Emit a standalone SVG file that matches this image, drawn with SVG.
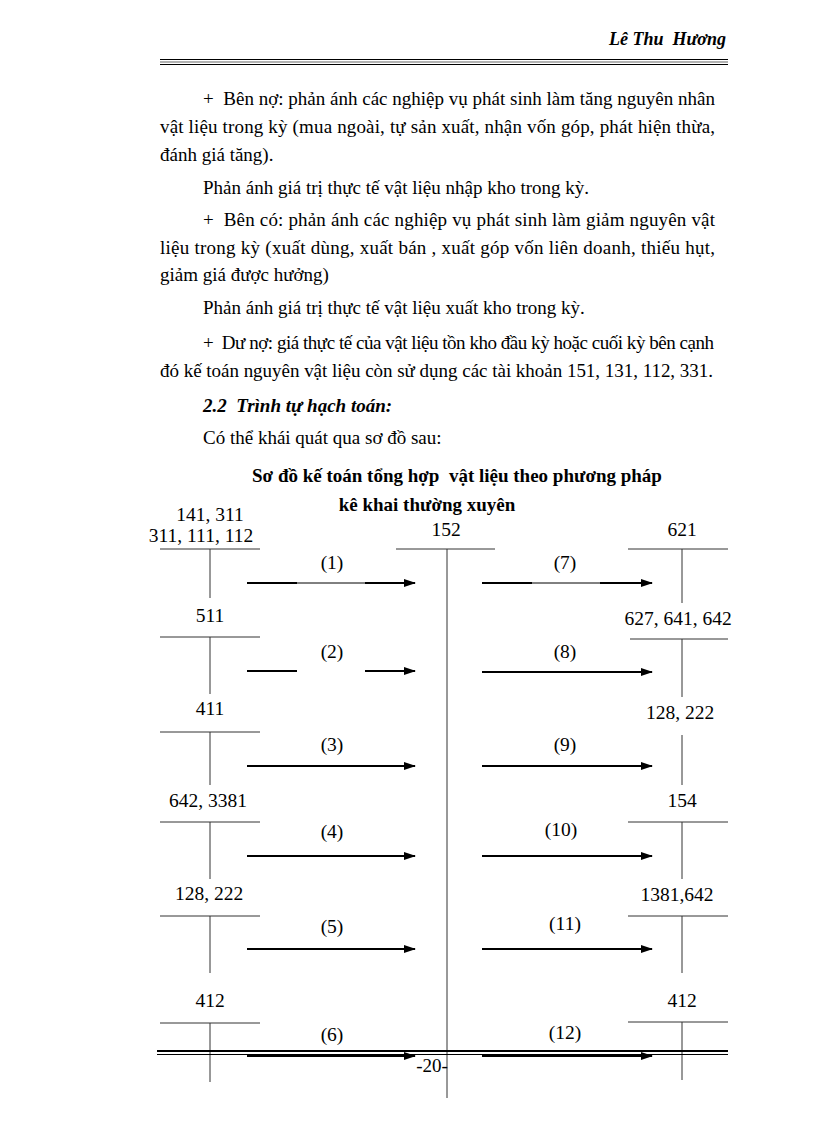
<svg xmlns="http://www.w3.org/2000/svg" width="816" height="1123" viewBox="0 0 816 1123">
<style>
text{font-family:"Liberation Serif","Times New Roman",serif;font-size:19px;fill:#000}
.d{font-size:19.5px}
.c{text-anchor:middle}
.b{font-weight:bold}
.hdr{font-weight:bold;font-style:italic;font-size:18px}
.lg{stroke:#333;stroke-width:1;fill:none}
.ar{stroke:#000;stroke-width:2;fill:none}
.tn{stroke:#000;stroke-width:1;fill:none}
</style>
<defs>
<marker id="ah" markerWidth="12" markerHeight="8" refX="11" refY="4" orient="auto" markerUnits="userSpaceOnUse">
<path d="M0,0 L12,4 L0,8 Z" fill="#000"/>
</marker>
</defs>
<rect width="816" height="1123" fill="#fff"/>
<g id="header">
<text class="hdr" x="726" y="45" text-anchor="end">Lê Thu&#160; Hương</text>
<line x1="160" y1="59.5" x2="728" y2="59.5" stroke="#000" stroke-width="1.2"/>
<line x1="160" y1="62" x2="728" y2="62" stroke="#666" stroke-width="1.2"/>
<line x1="160" y1="64.5" x2="728" y2="64.5" stroke="#000" stroke-width="1.2"/>
</g>
<g id="body">
<text x="203" y="105" textLength="512" lengthAdjust="spacing">+&#160; Bên nợ: phản ánh các nghiệp vụ phát sinh làm tăng nguyên nhân</text>
<text x="160" y="133" textLength="555" lengthAdjust="spacing">vật liệu trong kỳ (mua ngoài, tự sản xuất, nhận vốn góp, phát hiện thừa,</text>
<text x="160" y="161">đánh giá tăng).</text>
<text x="203" y="194">Phản ánh giá trị thực tế vật liệu nhập kho trong kỳ.</text>
<text x="203" y="226" textLength="512" lengthAdjust="spacing">+&#160; Bên có: phản ánh các nghiệp vụ phát sinh làm giảm nguyên vật</text>
<text x="160" y="254" textLength="555" lengthAdjust="spacing">liệu trong kỳ (xuất dùng, xuất bán , xuất góp vốn liên doanh, thiếu hụt,</text>
<text x="160" y="281">giảm giá được hưởng)</text>
<text x="203" y="314">Phản ánh giá trị thực tế vật liệu xuất kho trong kỳ.</text>
<text x="203" y="349" textLength="511" lengthAdjust="spacing">+&#160; Dư nợ: giá thực tế của vật liệu tồn kho đầu kỳ hoặc cuối kỳ bên cạnh</text>
<text x="160" y="377" textLength="553" lengthAdjust="spacing">đó kế toán nguyên vật liệu còn sử dụng các tài khoản 151, 131, 112, 331.</text>
<text x="203" y="412" class="b" font-style="italic">2.2&#160; Trình tự hạch toán:</text>
<text x="203" y="444">Có thể khái quát qua sơ đồ sau:</text>
<text x="457" y="482" class="b c">Sơ đồ kế toán tổng hợp&#160; vật liệu theo phương pháp</text>
<text x="427" y="511" class="b c">kê khai thường xuyên</text>
</g>
<g id="acc-left-1">
<text x="210" y="521" class="c d">141, 311</text>
<text x="201" y="542" class="c d">311, 111, 112</text>
<line class="lg" x1="160" y1="549" x2="260" y2="549"/>
<line class="lg" x1="210" y1="549" x2="210" y2="598"/>
</g>
<g id="acc-left-2">
<text x="210" y="622" class="c d">511</text>
<line class="lg" x1="160" y1="637" x2="260" y2="637"/>
<line class="lg" x1="210" y1="637" x2="210" y2="694"/>
</g>
<g id="acc-left-3">
<text x="210" y="715" class="c d">411</text>
<line class="lg" x1="160" y1="732" x2="260" y2="732"/>
<line class="lg" x1="210" y1="732" x2="210" y2="785"/>
</g>
<g id="acc-left-4">
<text x="208" y="807" class="c d">642, 3381</text>
<line class="lg" x1="160" y1="822" x2="260" y2="822"/>
<line class="lg" x1="210" y1="822" x2="210" y2="879"/>
</g>
<g id="acc-left-5">
<text x="209" y="900" class="c d">128, 222</text>
<line class="lg" x1="160" y1="916" x2="260" y2="916"/>
<line class="lg" x1="210" y1="916" x2="210" y2="973"/>
</g>
<g id="acc-left-6">
<text x="210" y="1007" class="c d">412</text>
<line class="lg" x1="160" y1="1023" x2="260" y2="1023"/>
<line class="lg" x1="210" y1="1023" x2="210" y2="1082"/>
</g>
<g id="acc-152">
<text x="446" y="536" class="c d">152</text>
<line class="lg" x1="396" y1="549" x2="495" y2="549"/>
<line class="lg" x1="447" y1="549" x2="447" y2="1098"/>
</g>
<g id="acc-right-1">
<text x="682" y="536" class="c d">621</text>
<line class="lg" x1="628" y1="549" x2="728" y2="549"/>
<line class="lg" x1="682" y1="549" x2="682" y2="603"/>
</g>
<g id="acc-right-2">
<text x="678" y="625" class="c d">627, 641, 642</text>
<line class="lg" x1="630" y1="639" x2="728" y2="639"/>
<line class="lg" x1="682" y1="639" x2="682" y2="697"/>
</g>
<g id="acc-right-3">
<text x="680" y="719" class="c d">128, 222</text>
<line class="lg" x1="682" y1="735" x2="682" y2="785"/>
</g>
<g id="acc-right-4">
<text x="682" y="807" class="c d">154</text>
<line class="lg" x1="628" y1="822" x2="728" y2="822"/>
<line class="lg" x1="682" y1="822" x2="682" y2="879"/>
</g>
<g id="acc-right-5">
<text x="677" y="901" class="c d">1381,642</text>
<line class="lg" x1="628" y1="916" x2="728" y2="916"/>
<line class="lg" x1="682" y1="916" x2="682" y2="973"/>
</g>
<g id="acc-right-6">
<text x="682" y="1007" class="c d">412</text>
<line class="lg" x1="628" y1="1022" x2="728" y2="1022"/>
<line class="lg" x1="682" y1="1022" x2="682" y2="1080"/>
</g>
<g id="connectors">
<text x="332" y="569" class="c d">(1)</text>
<line class="ar" x1="247" y1="583" x2="297" y2="583"/>
<line class="tn" x1="297" y1="583" x2="365" y2="583"/>
<line class="ar" x1="365" y1="583" x2="415" y2="583" marker-end="url(#ah)"/>
<text x="565" y="569" class="c d">(7)</text>
<line class="ar" x1="482" y1="583" x2="532" y2="583"/>
<line class="tn" x1="532" y1="583" x2="600" y2="583"/>
<line class="ar" x1="600" y1="583" x2="652" y2="583" marker-end="url(#ah)"/>

<text x="332" y="658" class="c d">(2)</text>
<line class="ar" x1="247" y1="671" x2="297" y2="671"/>
<line class="ar" x1="365" y1="671" x2="415" y2="671" marker-end="url(#ah)"/>
<text x="565" y="658" class="c d">(8)</text>
<line class="ar" x1="482" y1="672" x2="652" y2="672" marker-end="url(#ah)"/>

<text x="332" y="751" class="c d">(3)</text>
<line class="ar" x1="247" y1="766" x2="415" y2="766" marker-end="url(#ah)"/>
<text x="565" y="751" class="c d">(9)</text>
<line class="ar" x1="482" y1="766" x2="652" y2="766" marker-end="url(#ah)"/>

<text x="332" y="838" class="c d">(4)</text>
<line class="ar" x1="247" y1="856" x2="415" y2="856" stroke-width="1.5" marker-end="url(#ah)"/>
<text x="561" y="836" class="c d">(10)</text>
<line class="ar" x1="482" y1="856" x2="652" y2="856" stroke-width="1.5" marker-end="url(#ah)"/>

<text x="332" y="933" class="c d">(5)</text>
<line class="ar" x1="247" y1="949" x2="415" y2="949" marker-end="url(#ah)"/>
<text x="565" y="930" class="c d">(11)</text>
<line class="ar" x1="482" y1="949" x2="652" y2="949" marker-end="url(#ah)"/>

<text x="332" y="1041" class="c d">(6)</text>
<line class="ar" x1="247" y1="1056" x2="415" y2="1056" stroke="#555" marker-end="url(#ah)"/>
<text x="565" y="1039" class="c d">(12)</text>
<line class="ar" x1="482" y1="1056" x2="652" y2="1056" stroke="#555" marker-end="url(#ah)"/>
</g>
<g id="footer">
<line x1="157" y1="1051" x2="728" y2="1051" stroke="#000" stroke-width="2"/>
<line x1="157" y1="1054.5" x2="728" y2="1054.5" stroke="#000" stroke-width="1"/>
<text x="432" y="1072" class="c" font-size="17">-20-</text>
</g>
</svg>
